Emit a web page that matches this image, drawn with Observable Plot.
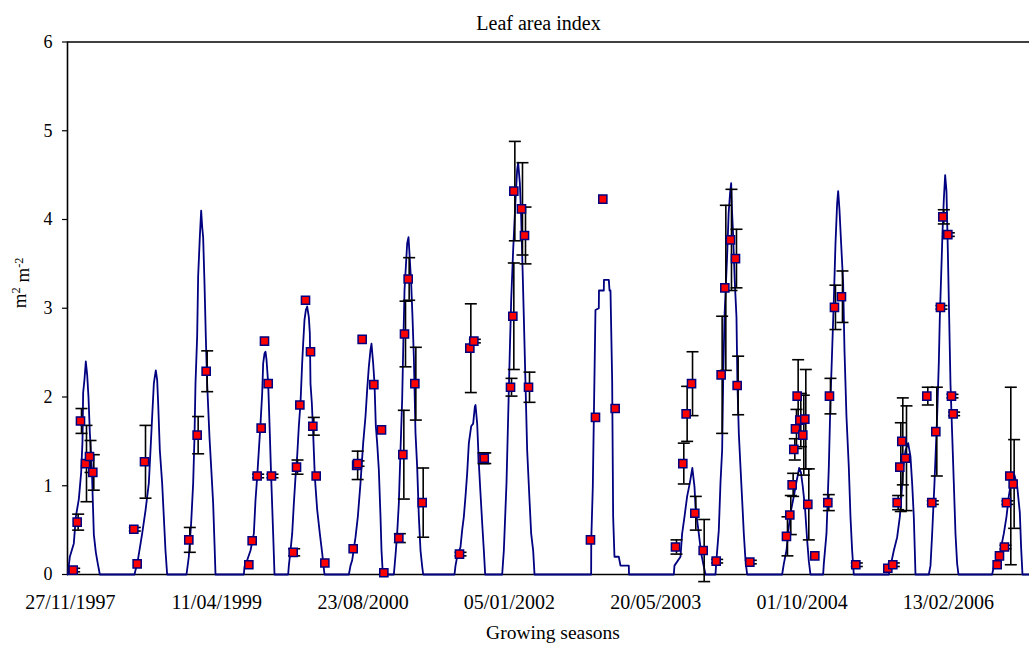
<!DOCTYPE html>
<html>
<head>
<meta charset="utf-8">
<script src="https://cdn.jsdelivr.net/npm/d3@7"></script>
<script src="https://cdn.jsdelivr.net/npm/@observablehq/plot@0.6"></script>
<style>
  html, body { margin: 0; padding: 0; background: #fff; }
  #chart svg { display: block; }
</style>
</head>
<body>
<div id="chart"></div>
<script>
// Simulation start date (left edge of the time axis); days are counted from it
const startDate = "1997-11-17";
const endDay = 3287;

// Tick labels (every 500 days)
const tickLabels = ["27/11/1997", "11/04/1999", "23/08/2000", "05/01/2002", "20/05/2003", "01/10/2004", "13/02/2006"];
const yTicks = [0, 1, 2, 3, 4, 5, 6];

// Simulated LAI (blue line): day since start, LAI value
const simDay = [
  0, 1, 8, 21.6, 28.5, 38.7, 46.7, 51.2, 53.5, 58.1, 62.6, 67.2, 71.7, 76.3, 83.1, 90, 96.8, 103.6, 110.5,
  228.9, 240.3, 255.1, 266.5, 277.9, 283.6, 289.3, 295, 298.4, 301.8, 306.4, 309.8, 315.5, 323.4, 329.1, 334.8, 340.5,
  406.6, 414.5, 422.5, 429.4, 433.9, 437.3, 443, 446.4, 452.1, 456.7, 460.1, 463.5, 468.1, 472.6, 477.2, 485.1, 490.9, 497.7, 502.3, 505.7,
  602.5, 604.8, 613.9, 625.3, 636.7, 642.4, 648.1, 653.8, 659.5, 665.2, 668.6, 673.1, 676.5, 680, 685.7, 690.2, 695.9, 702.7, 707.3,
  754, 756.3, 762, 767.7, 773.4, 779.1, 784.7, 790.4, 796.1, 801.8, 805.2, 809.8, 814.4, 818.9, 824.6, 828, 830.3, 834.9, 839.4, 845.1, 853.1, 862.2, 870.2, 878.1,
  961.3, 967, 972.7, 984.1, 992, 1001.1, 1010.3, 1018.2, 1023.9, 1029.6, 1035.3, 1038.7, 1044.4, 1049, 1053.5, 1058.1, 1063.8, 1069.5, 1072.9, 1077.5,
  1115.1, 1120.8, 1126.4, 1132.1, 1137.8, 1143.5, 1147, 1151.5, 1156.1, 1160.6, 1165.2, 1169.7, 1174.3, 1178.8, 1183.4, 1189.1, 1194.8, 1200.5, 1206.2, 1211.9, 1215.3,
  1322.3, 1325.8, 1331.4, 1342.8, 1348.5, 1354.2, 1359.9, 1365.6, 1371.3, 1379.3, 1386.1, 1391.8, 1394.1, 1399.8, 1405.5, 1411.2, 1416.9, 1422.6, 1427.1,
  1485.2, 1490.9, 1500, 1505.7, 1511.4, 1516, 1522.8, 1530.8, 1536.4, 1539.9, 1545.6, 1550.1, 1554.7, 1559.2, 1564.9, 1570.6, 1578.6, 1584.3, 1591.1, 1595.7,
  1789.2, 1789.6, 1794.9, 1804, 1815.4, 1816, 1832.5, 1833, 1849.6, 1852, 1855.3, 1861, 1864.4, 1868.9, 1883.7, 1889.4, 1917.9, 1918.5,
  2071.7, 2073.9, 2094.5, 2100.1, 2108.1, 2117.2, 2126.3, 2135, 2142.3, 2145.8, 2151.5, 2157.1, 2165.1, 2174.2, 2179.9,
  2214.1, 2216.3, 2225.4, 2231.1, 2236.8, 2240.2, 2244.8, 2250, 2254, 2259, 2264, 2267.6, 2270.5, 2274, 2280, 2285.8, 2289, 2293.8, 2299.5, 2305.2, 2310.9, 2316.6, 2322.2,
  2441.8, 2447.5, 2456.6, 2464.6, 2472.6, 2481.7, 2490, 2500, 2506, 2512, 2520, 2527, 2533, 2538.6,
  2581.9, 2584.2, 2593.3, 2601.3, 2607, 2612.7, 2618.4, 2624.1, 2629.7, 2633.2, 2637.7, 2643.4, 2650.3, 2654.8, 2661.6, 2669.6, 2675.3, 2681, 2686.7,
  2806.3, 2812, 2823.4, 2834.8, 2843.9, 2848.5, 2855.3, 2863.3, 2872.4, 2880.3, 2886, 2891.7, 2895.1, 2897.4,
  2943, 2948.7, 2954.4, 2962.3, 2971.4, 2977.1, 2980.6, 2985.1, 2989.7, 2994.2, 2998.8, 3003.3, 3007.9, 3012.5, 3017, 3022.7, 3028.4, 3034.1, 3039.8, 3044.3,
  3159.4, 3165.1, 3176.5, 3187.8, 3199.2, 3208.3, 3216.3, 3224.3, 3235.7, 3244.8, 3253.9, 3258.4, 3263, 3287
];
const simLai = [
  0, 0, 0.2, 0.35, 0.65, 0.85, 1.15, 1.5, 2.05, 2.2, 2.4, 2.25, 2.0, 1.6, 1.2, 0.45, 0.25, 0.12, 0,
  0, 0.16, 0.46, 0.72, 1.03, 1.4, 1.78, 2.15, 2.23, 2.3, 2.19, 1.93, 1.4, 1.03, 0.65, 0.27, 0,
  0, 0.2, 0.58, 1.03, 1.55, 2.15, 2.68, 3.36, 3.8, 4.1, 3.92, 3.8, 3.28, 2.68, 2.15, 1.55, 1.21, 0.8, 0.35, 0,
  0, 0.09, 0.16, 0.27, 0.46, 0.84, 1.1, 1.4, 1.7, 2.04, 2.38, 2.49, 2.51, 2.42, 2.15, 1.7, 1.1, 0.46, 0,
  0, 0.1, 0.27, 0.46, 0.8, 1.1, 1.33, 1.67, 1.93, 2.38, 2.6, 2.87, 2.98, 3.02, 2.9, 2.72, 2.15, 1.93, 1.59, 1.1, 0.73, 0.46, 0.24, 0,
  0, 0.1, 0.16, 0.42, 0.65, 1.03, 1.48, 1.78, 2.08, 2.34, 2.53, 2.6, 2.38, 2.15, 1.67, 1.48, 1.18, 0.65, 0.27, 0,
  0, 0.22, 0.46, 0.8, 1.4, 1.97, 2.53, 3.2, 3.47, 3.73, 3.8, 3.55, 3.28, 2.9, 2.45, 1.59, 1.21, 0.65, 0.27, 0.09, 0,
  0, 0.1, 0.2, 0.31, 0.5, 0.65, 0.88, 1.14, 1.48, 1.67, 1.7, 1.89, 1.91, 1.7, 1.25, 0.91, 0.58, 0.27, 0,
  0, 0.27, 1.03, 1.78, 2.53, 3.09, 3.66, 4.22, 4.56, 4.64, 4.41, 4.03, 3.47, 2.9, 2.15, 1.4, 0.84, 0.46, 0.27, 0,
  0, 0.39, 0.99, 2.98, 3.0, 3.2, 3.2, 3.32, 3.32, 3.2, 3.2, 2.19, 0.65, 0.2, 0.2, 0.1, 0.1, 0,
  0, 0.1, 0.2, 0.46, 0.65, 0.88, 1.03, 1.2, 0.99, 0.76, 0.61, 0.46, 0.24, 0.09, 0,
  0, 0.12, 0.5, 1.03, 1.4, 2.15, 2.9, 3.3, 3.6, 4.07, 4.3, 4.41, 4.1, 3.85, 3.3, 2.9, 2.15, 1.59, 1.21, 0.84, 0.46, 0.16, 0,
  0, 0.12, 0.27, 0.54, 0.73, 0.88, 1.03, 1.2, 1.15, 1.0, 0.75, 0.4, 0.15, 0,
  0, 0.12, 0.46, 1.21, 1.97, 2.53, 3.09, 3.73, 4.18, 4.32, 4.11, 3.73, 3.28, 2.53, 1.78, 1.21, 0.65, 0.27, 0,
  0, 0.09, 0.27, 0.42, 0.65, 0.84, 1.21, 1.4, 1.48, 1.33, 1.03, 0.65, 0.27, 0,
  0, 0.1, 0.46, 1.03, 1.78, 2.38, 2.9, 3.36, 3.85, 4.22, 4.5, 4.32, 3.66, 2.9, 2.15, 1.59, 1.03, 0.46, 0.12, 0,
  0, 0.09, 0.15, 0.27, 0.46, 0.65, 0.88, 1.05, 1.12, 1.0, 0.7, 0.3, 0, 0
];

// Measured LAI (red squares) with standard deviation (error bars)
const obsDay = [
  19.4, 33, 44.4, 61.5, 75.2, 86.5, 226.6, 238, 263.1, 414.5, 443, 473.8,
  619.6, 631, 648.1, 661.7, 673.1, 685.7, 697, 771.1, 782.5, 793.9, 813.2, 830.3, 838.3, 849.7, 879.3,
  976.1, 988, 991, 1006.8, 1046.7, 1072.9, 1080.9,
  1132.1, 1145.8, 1151.5, 1164, 1186.8, 1211.9,
  1339.4, 1374.7, 1388.4, 1418, 1424,
  1513.7, 1521.6, 1525.1, 1551.2, 1561.5, 1575.2,
  1786.9, 1804, 1829.1, 1871.2,
  2077.4, 2102.4, 2113.8, 2132.2, 2143.4, 2172,
  2216.4, 2233.4, 2246, 2265.3, 2282.4, 2288.1, 2331.4,
  2456.6, 2468, 2476, 2481.7, 2487.4, 2493.1, 2502.2, 2512.4, 2519.3, 2529.5, 2553.4,
  2597.9, 2603.5, 2620.6, 2644.5, 2693.5,
  2802.9, 2820, 2834.8, 2843.9, 2850.7, 2863.3,
  2936.1, 2953.2, 2966.9, 2982.8, 2990.8, 3007.9, 3020.4, 3026.1,
  3176.5, 3184.4, 3201.5, 3208.3, 3219.7, 3231.1
];
const obsLai = [
  0.05, 0.59, 1.73, 1.25, 1.33, 1.15, 0.51, 0.12, 1.27, 0.39, 1.57, 2.29,
  0.11, 0.38, 1.11, 1.65, 2.63, 2.15, 1.11, 0.25, 1.21, 1.91, 3.09, 2.51, 1.67, 1.11, 0.13,
  0.29, 1.23, 1.25, 2.65, 2.14, 1.63, 0.02,
  0.41, 1.35, 2.71, 3.33, 2.15, 0.81,
  0.23, 2.55, 2.63, 1.31, 1.31,
  2.11, 2.91, 4.32, 4.12, 3.82, 2.11,
  0.39, 1.77, 4.23, 1.87,
  0.31, 1.25, 1.81, 2.15, 0.69, 0.27,
  0.15, 2.25, 3.23, 3.77, 3.56, 2.13, 0.14,
  0.43, 0.67, 1.01, 1.41, 1.64, 2.01, 1.74, 1.57, 1.75, 0.79, 0.21,
  0.81, 2.01, 3.01, 3.13, 0.11,
  0.07, 0.11, 0.81, 1.21, 1.5, 1.31,
  2.01, 0.81, 1.61, 3.01, 4.03, 3.83, 2.01, 1.81,
  0.11, 0.21, 0.31, 0.81, 1.11, 1.02
];
const obsErr = [
  0.02, 0.09, 0.14, 0.43, 0.18, 0.2, 0.02, 0, 0.41, 0.14, 0.21, 0.23,
  0, 0, 0.02, 0, 0, 0, 0.02, 0.04, 0.08, 0, 0, 0, 0.1, 0, 0,
  0, 0.16, 0.03, 0, 0, 0, 0,
  0.05, 0.5, 0.37, 0.24, 0.41, 0.39,
  0.02, 0.5, 0.02, 0.06, 0.06,
  0.1, 0.6, 0.56, 0.52, 0.32, 0.17,
  0, 0, 0, 0,
  0.08, 0.23, 0.31, 0.36, 0.19, 0.35,
  0.02, 0.66, 0.93, 0.57, 0.33, 0.33, 0.02,
  0.22, 0.22, 0.13, 0.12, 0.22, 0.41, 0.3, 0.45, 0.56, 0.4, 0,
  0.09, 0.2, 0.25, 0.29, 0.02,
  0, 0.02, 0.08, 0.5, 0.49, 0.59,
  0.1, 0.02, 0.5, 0.02, 0.08, 0.02, 0.02, 0.02,
  0, 0, 0.02, 0.02, 1.0, 0.5
];

const title = "Leaf area index";
const xTitle = "Growing seasons";
const yTitle = "m² m⁻²";

// ---- build tables ----
const t0 = d3.utcParse("%Y-%m-%d")(startDate);
const toDate = d => new Date(t0.getTime() + d * 864e5);
const parseTick = d3.utcParse("%d/%m/%Y");
const tickDates = tickLabels.map(parseTick);

const sim = simDay.map((d, i) => ({date: toDate(d), lai: simLai[i]}));
const obs = obsDay.map((d, i) => ({date: toDate(d), lai: obsLai[i], err: obsErr[i]}));
const bars = obs.filter(d => d.err > 0);

// horizontal cap symbol for error bars
const capSymbol = {
  draw(context, size) {
    const w = Math.sqrt(size / Math.PI);
    context.moveTo(-w, 0);
    context.lineTo(w, 0);
  }
};

const serif = "'Liberation Serif', 'Times New Roman', Times, serif";

const chart = Plot.plot({
  width: 1029,
  height: 653,
  marginLeft: 67,
  marginRight: 0,
  marginTop: 41.5,
  marginBottom: 79,
  style: {fontFamily: serif, color: "#000", background: "#fff", overflow: "visible"},
  x: {type: "utc", domain: [toDate(0), toDate(endDay)]},
  y: {domain: [0, 6]},
  marks: [
    Plot.axisY({ticks: yTicks, tickFormat: d3.format("d"), tickSize: 5, tickPadding: 10, fontSize: 18, label: null, stroke: "#000", strokeWidth: 1.2}),
    Plot.axisX({ticks: tickDates, tickFormat: d3.utcFormat("%d/%m/%Y"), tickSize: 0, tickPadding: 20, fontSize: 20, label: null}),
    Plot.ruleY([0, 6], {stroke: "#000", strokeWidth: 1.6}),
    Plot.ruleX([toDate(0)], {stroke: "#000", strokeWidth: 1.6}),
    Plot.line(sim, {x: "date", y: "lai", stroke: "#000080", strokeWidth: 1.8}),
    Plot.ruleX(bars, {x: "date", y1: d => d.lai - d.err, y2: d => d.lai + d.err, stroke: "#000", strokeWidth: 1.6, dx: 1}),
    Plot.dot(bars, {x: "date", y: d => d.lai + d.err, symbol: capSymbol, r: 6, stroke: "#000", strokeWidth: 1.6, fill: "none", dx: 1}),
    Plot.dot(bars, {x: "date", y: d => d.lai - d.err, symbol: capSymbol, r: 6, stroke: "#000", strokeWidth: 1.6, fill: "none", dx: 1}),
    Plot.dot(obs, {x: "date", y: "lai", symbol: "square", r: 4.6, fill: "#ff0000", stroke: "#000080", strokeWidth: 1.5}),
    Plot.text([title], {frameAnchor: "top", dy: -26, dx: -10, fontSize: 20, fill: "#000"}),
    Plot.text([xTitle], {frameAnchor: "bottom", dy: 64, dx: 4.5, fontSize: 19.5, fill: "#000"}),
    Plot.text([yTitle], {frameAnchor: "left", dx: -48, rotate: -90, fontSize: 19, fill: "#000"})
  ]
});

document.getElementById("chart").appendChild(chart);

// superscripts in the y-axis title
d3.select(chart).selectAll("text").filter(function () { return this.textContent === yTitle; })
  .each(function () {
    const t = d3.select(this);
    t.text(null);
    t.append("tspan").text("m");
    t.append("tspan").attr("dy", "-0.45em").attr("font-size", "0.65em").text("2");
    t.append("tspan").attr("dy", "0.45em").text(" m");
    t.append("tspan").attr("dy", "-0.45em").attr("font-size", "0.65em").text("-2");
  });
</script>
</body>
</html>
